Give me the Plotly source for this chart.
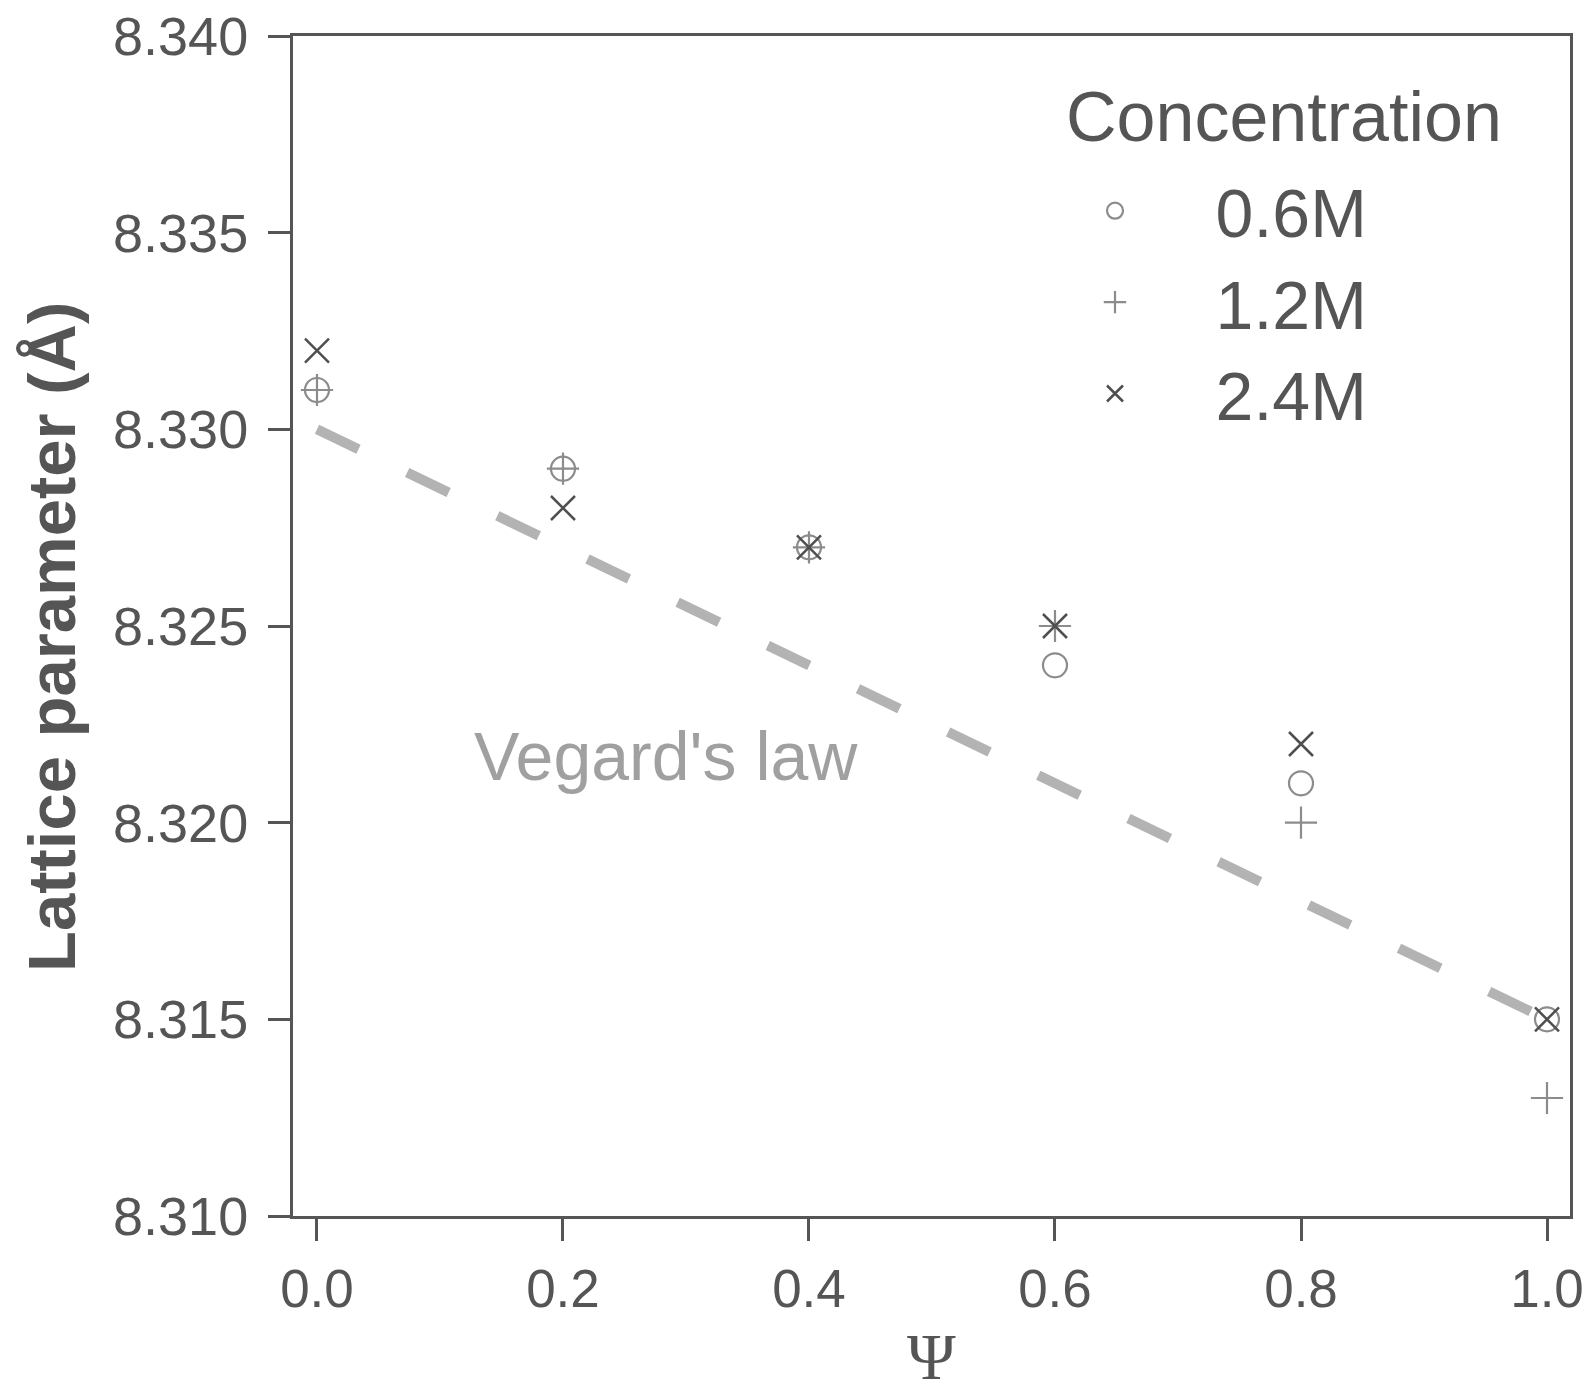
import plotly.graph_objects as go

psi = [0.0, 0.2, 0.4, 0.6, 0.8, 1.0]
lat_06 = [8.331, 8.329, 8.327, 8.324, 8.321, 8.315]
lat_12 = [8.331, 8.329, 8.327, 8.325, 8.320, 8.313]
lat_24 = [8.332, 8.328, 8.327, 8.325, 8.322, 8.315]
vegard_x = [0.0, 1.0]
vegard_y = [8.330, 8.315]
y_ticks = [8.310, 8.315, 8.320, 8.325, 8.330, 8.335, 8.340]
x_ticks = [0.0, 0.2, 0.4, 0.6, 0.8, 1.0]

FONT = "Liberation Sans, Arial, sans-serif"
AX = "#555555"
PAD = "\u2002\u2009"

fig = go.Figure()
fig.add_trace(go.Scatter(x=vegard_x, y=vegard_y, mode="lines", showlegend=False,
                         line=dict(color="#b3b3b3", width=10, dash="46px,54px"),
                         hoverinfo="skip"))
fig.add_trace(go.Scatter(x=psi, y=lat_06, mode="markers", name=PAD + "0.6M",
                         marker=dict(symbol="circle-open", size=24,
                                     line=dict(color="#8c8c8c", width=2.2), color="#8c8c8c")))
fig.add_trace(go.Scatter(x=psi, y=lat_12, mode="markers", name=PAD + "1.2M",
                         marker=dict(symbol="cross-thin-open", size=23,
                                     line=dict(color="#8c8c8c", width=2.2), color="#8c8c8c")))
fig.add_trace(go.Scatter(x=psi, y=lat_24, mode="markers", name=PAD + "2.4M",
                         marker=dict(symbol="x-thin-open", size=24,
                                     line=dict(color="#4f4f4f", width=2.5), color="#4f4f4f")))

fig.add_annotation(x=0.284, y=8.3217, xref="x", yref="y", text="Vegard's law",
                   showarrow=False, font=dict(family=FONT, size=68, color="#a0a0a0"))
fig.add_annotation(x=(1064 - 293) / 1277, y=(1216 - 117) / 1180, xref="paper", yref="paper",
                   xanchor="left", yanchor="middle", text="Concentration",
                   showarrow=False, font=dict(family=FONT, size=70, color=AX))
fig.add_annotation(x=(51 - 293) / 1277, y=(1216 - 637) / 1180, xref="paper", yref="paper",
                   xanchor="center", yanchor="middle", textangle=-90,
                   text="<b>Lattice parameter (Å)</b>",
                   showarrow=False, font=dict(family=FONT, size=67, color=AX))
fig.add_annotation(x=0.5, y=(1216 - 1356) / 1180, xref="paper", yref="paper",
                   xanchor="center", yanchor="middle", text="Ψ",
                   showarrow=False,
                   font=dict(family="Liberation Serif, Times New Roman, serif", size=66, color=AX))

fig.update_layout(
    width=1592, height=1394,
    margin=dict(l=293, r=22, t=36, b=178),
    paper_bgcolor="white", plot_bgcolor="white",
    font=dict(family=FONT, color=AX),
    legend=dict(x=(1062 - 293) / 1277, y=(1216 - 160) / 1180, xanchor="left", yanchor="top",
                bgcolor="rgba(0,0,0,0)",
                font=dict(family=FONT, size=68, color=AX),
                itemwidth=96, tracegroupgap=0),
    xaxis=dict(range=[-0.0195, 1.0187], tickvals=x_ticks, tickformat=".1f",
               showline=True, mirror=True, linecolor=AX, linewidth=3,
               ticks="outside", ticklen=22, tickwidth=3, tickcolor=AX,
               showgrid=False, zeroline=False, ticklabelstandoff=2, automargin=False,
               tickfont=dict(family=FONT, size=53, color=AX)),
    yaxis=dict(range=[8.310, 8.340], tickvals=y_ticks, tickformat=".3f",
               showline=True, mirror=True, linecolor=AX, linewidth=3,
               ticks="outside", ticklen=22, tickwidth=3, tickcolor=AX,
               showgrid=False, zeroline=False, ticklabelstandoff=9, automargin=False,
               tickfont=dict(family=FONT, size=54, color=AX)),
)

fig.write_html("out.html")
